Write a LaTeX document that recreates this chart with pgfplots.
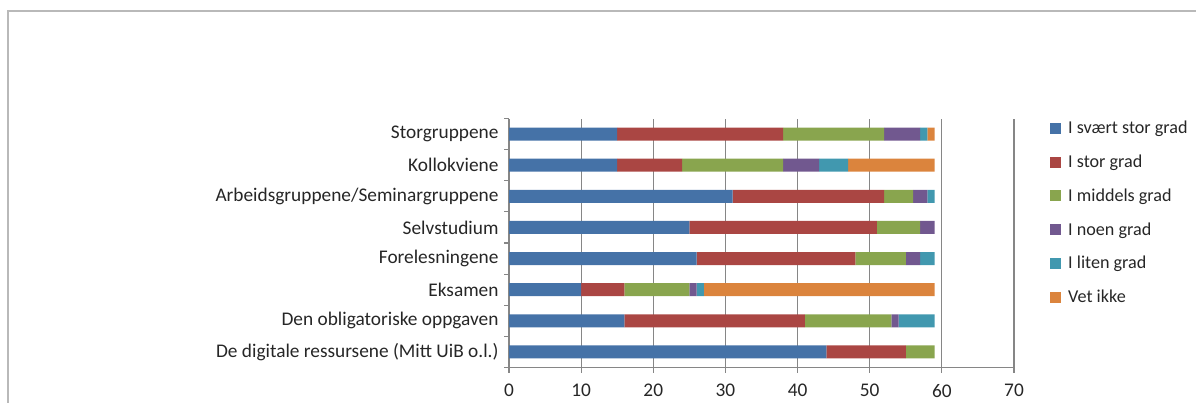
\documentclass[border=0pt]{standalone}
\usepackage{pgfplots}
\usepackage{pgfplotstable}
\pgfplotsset{compat=1.18}
\usepackage{fontspec}
\setmainfont{Carlito}

\definecolor{c1}{HTML}{4572A7}
\definecolor{c2}{HTML}{AA4643}
\definecolor{c3}{HTML}{89A54E}
\definecolor{c4}{HTML}{71588F}
\definecolor{c5}{HTML}{4198AF}
\definecolor{c6}{HTML}{DB843D}
\definecolor{axgray}{HTML}{868686}

% idx 0 = bottom row (De digitale ...), 7 = top row (Storgruppene)
\pgfplotstableread{
idx svaert stor middels noen liten vet
0   44  11  4   0   0   0
1   16  25  12  1   5   0
2   10  6   9   1   1   32
3   26  22  7   2   2   0
4   25  26  6   2   0   0
5   31  21  4   2   1   0
6   15  9   14  5   4   12
7   15  23  14  5   1   1
}\datatable

\begin{document}
\begin{tikzpicture}
\path[use as bounding box] (0,0) rectangle (1196bp,403bp);
\draw[gray!55, line width=2bp] (8bp,0) -- (8bp,392bp) -- (1196bp,392bp);

\begin{axis}[
    at={(509bp,35.5bp)}, anchor=south west,
    scale only axis,
    width=505bp, height=249bp,
    font=\fontsize{19.4}{23}\selectfont,
    xbar stacked,
    bar width=13bp,
    xmin=0, xmax=70,
    ymin=-0.5, ymax=7.5,
    xtick={0,10,...,70},
    ytick={-0.5,0.5,...,7.5},
    yticklabels={},
    extra y ticks={0,...,7},
    extra y tick labels={De digitale ressursene (Mitt UiB o.l.),Den obligatoriske oppgaven,Eksamen,Forelesningene,Selvstudium,Arbeidsgruppene/Seminargruppene,Kollokviene,Storgruppene},
    extra y tick style={major tick length=0pt, yticklabel style={xshift=-7bp}},
    axis x line*=bottom,
    axis y line*=left,
    axis line style={axgray, line width=1.2bp},
    xmajorgrids,
    major grid style={axgray, line width=1.2bp},
    tick align=outside,
    xtick pos=bottom, ytick pos=left,
    major tick length=5bp,
    tick style={axgray, line width=1.2bp},
    xticklabel style={yshift=-8bp},
    /pgf/number format/assume math mode=true,
    tick label style={text=black!85},
    legend style={at={(1.0713,0.998)}, anchor=north west, draw=none,
        fill=none, font=\fontsize{18.2}{22}\selectfont, text=black!85,
        row sep=15.7bp, inner sep=0pt},
    legend cell align=left,
    legend image code/.code={\fill[#1] (0bp,-5.5bp) rectangle (11bp,5.5bp); \path (16bp,0);},
]
\addplot[fill=c1, draw=none] table[x=svaert, y=idx] {\datatable};
\addplot[fill=c2, draw=none] table[x=stor, y=idx] {\datatable};
\addplot[fill=c3, draw=none] table[x=middels, y=idx] {\datatable};
\addplot[fill=c4, draw=none] table[x=noen, y=idx] {\datatable};
\addplot[fill=c5, draw=none] table[x=liten, y=idx] {\datatable};
\addplot[fill=c6, draw=none] table[x=vet, y=idx] {\datatable};
\legend{I svært stor grad, I stor grad, I middels grad, I noen grad, I liten grad, Vet ikke}
\end{axis}
\end{tikzpicture}
\end{document}
